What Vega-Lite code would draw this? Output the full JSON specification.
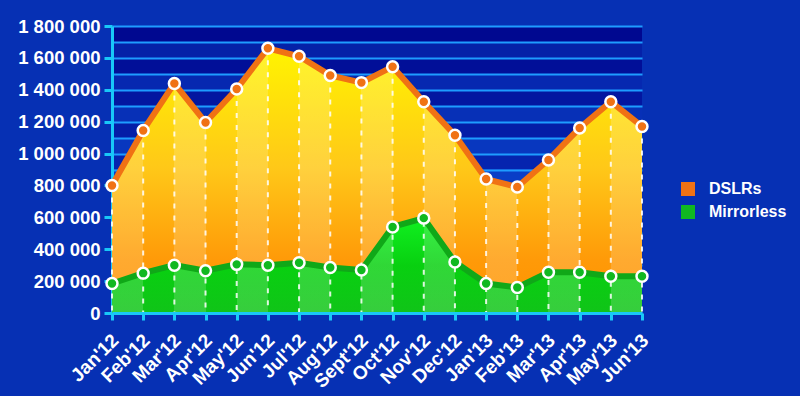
{
  "$schema": "https://vega.github.io/schema/vega-lite/v6.json",
  "width": 530,
  "height": 287,
  "autosize": {"type": "none"},
  "padding": {"left": 112, "top": 26, "right": 158, "bottom": 83},
  "background": "#0630b4",
  "config": {
    "locale": {"number": {"decimal": ".", "thousands": " ", "grouping": [3], "currency": ["", ""]}},
    "font": "Liberation Sans",
    "view": {"stroke": null, "fill": {"gradient": "linear", "x1": 0, "y1": 0, "x2": 0, "y2": 1, "stops": [
      {"offset": 0, "color": "#000890"}, {"offset": 0.0556, "color": "#000890"},
      {"offset": 0.0556, "color": "#0521a8"}, {"offset": 0.1111, "color": "#0521a8"},
      {"offset": 0.1111, "color": "#010f98"}, {"offset": 0.1667, "color": "#010f98"},
      {"offset": 0.1667, "color": "#0628b0"}, {"offset": 0.2222, "color": "#0628b0"},
      {"offset": 0.2222, "color": "#0316a0"}, {"offset": 0.2778, "color": "#0316a0"},
      {"offset": 0.2778, "color": "#0730b7"}, {"offset": 0.3333, "color": "#0730b7"},
      {"offset": 0.3333, "color": "#041da7"}, {"offset": 0.3889, "color": "#041da7"},
      {"offset": 0.3889, "color": "#0837bf"}, {"offset": 0.4444, "color": "#0837bf"},
      {"offset": 0.4444, "color": "#0524af"}, {"offset": 0.5, "color": "#0524af"},
      {"offset": 0.5, "color": "#093ec7"}, {"offset": 0.5556, "color": "#093ec7"},
      {"offset": 0.5556, "color": "#062bb7"}, {"offset": 0.6111, "color": "#062bb7"},
      {"offset": 0.6111, "color": "#0a45cf"}, {"offset": 0.6667, "color": "#0a45cf"},
      {"offset": 0.6667, "color": "#0732bf"}, {"offset": 0.7222, "color": "#0732bf"},
      {"offset": 0.7222, "color": "#0c4cd7"}, {"offset": 0.7778, "color": "#0c4cd7"},
      {"offset": 0.7778, "color": "#083ac6"}, {"offset": 0.8333, "color": "#083ac6"},
      {"offset": 0.8333, "color": "#0d53de"}, {"offset": 0.8889, "color": "#0d53de"},
      {"offset": 0.8889, "color": "#0941ce"}, {"offset": 0.9444, "color": "#0941ce"},
      {"offset": 0.9444, "color": "#0e5ae6"}, {"offset": 1, "color": "#0e5ae6"}]}}
  },
  "data": {
    "values": [
      {"month": "Jan'12", "series": "DSLRs", "value": 800000},
      {"month": "Feb'12", "series": "DSLRs", "value": 1145000},
      {"month": "Mar'12", "series": "DSLRs", "value": 1440000},
      {"month": "Apr'12", "series": "DSLRs", "value": 1195000},
      {"month": "May'12", "series": "DSLRs", "value": 1405000},
      {"month": "Jun'12", "series": "DSLRs", "value": 1660000},
      {"month": "Jul'12", "series": "DSLRs", "value": 1610000},
      {"month": "Aug'12", "series": "DSLRs", "value": 1490000},
      {"month": "Sept'12", "series": "DSLRs", "value": 1445000},
      {"month": "Oct'12", "series": "DSLRs", "value": 1545000},
      {"month": "Nov'12", "series": "DSLRs", "value": 1325000},
      {"month": "Dec'12", "series": "DSLRs", "value": 1115000},
      {"month": "Jan'13", "series": "DSLRs", "value": 840000},
      {"month": "Feb'13", "series": "DSLRs", "value": 790000},
      {"month": "Mar'13", "series": "DSLRs", "value": 960000},
      {"month": "Apr'13", "series": "DSLRs", "value": 1160000},
      {"month": "May'13", "series": "DSLRs", "value": 1325000},
      {"month": "Jun'13", "series": "DSLRs", "value": 1170000},
      {"month": "Jan'12", "series": "Mirrorless", "value": 185000},
      {"month": "Feb'12", "series": "Mirrorless", "value": 250000},
      {"month": "Mar'12", "series": "Mirrorless", "value": 300000},
      {"month": "Apr'12", "series": "Mirrorless", "value": 265000},
      {"month": "May'12", "series": "Mirrorless", "value": 305000},
      {"month": "Jun'12", "series": "Mirrorless", "value": 300000},
      {"month": "Jul'12", "series": "Mirrorless", "value": 315000},
      {"month": "Aug'12", "series": "Mirrorless", "value": 285000},
      {"month": "Sept'12", "series": "Mirrorless", "value": 270000},
      {"month": "Oct'12", "series": "Mirrorless", "value": 540000},
      {"month": "Nov'12", "series": "Mirrorless", "value": 595000},
      {"month": "Dec'12", "series": "Mirrorless", "value": 320000},
      {"month": "Jan'13", "series": "Mirrorless", "value": 185000},
      {"month": "Feb'13", "series": "Mirrorless", "value": 160000},
      {"month": "Mar'13", "series": "Mirrorless", "value": 255000},
      {"month": "Apr'13", "series": "Mirrorless", "value": 255000},
      {"month": "May'13", "series": "Mirrorless", "value": 230000},
      {"month": "Jun'13", "series": "Mirrorless", "value": 230000}
    ]
  },
  "encoding": {
    "x": {
      "field": "month", "type": "ordinal", "sort": null,
      "scale": {"type": "point", "padding": 0},
      "axis": {
        "title": null, "domainColor": "#18c8f8", "domainWidth": 3,
        "tickColor": "#18c8f8", "tickWidth": 3, "tickSize": 7,
        "labelAngle": -45, "labelAlign": "right", "labelBaseline": "middle",
        "labelColor": "white", "labelFont": "Liberation Sans", "labelFontWeight": "bold",
        "labelFontSize": 19, "labelPadding": 17, "labelOffset": 3, "zindex": 1
      }
    },
    "y": {
      "field": "value", "type": "quantitative", "scale": {"domain": [0, 1800000]},
      "axis": {"title": null, "grid": true, "gridColor": "#1e9cff", "gridWidth": 2,
        "domainColor": "#18c8f8", "domainWidth": 3, "tickColor": "#18c8f8", "tickWidth": 3, "tickSize": 8,
        "tickOpacity": {"condition": {"test": "datum.value % 200000 === 0", "value": 1}, "value": 0},
        "labelExpr": "datum.value % 200000 === 0 ? datum.label : ''",
        "labelColor": "white", "labelFont": "Liberation Sans", "labelFontWeight": "bold", "labelFontSize": 18.5, "labelPadding": 4, "format": ",d", "zindex": 0,
        "values": [0, 100000, 200000, 300000, 400000, 500000, 600000, 700000, 800000, 900000, 1000000, 1100000, 1200000, 1300000, 1400000, 1500000, 1600000, 1700000, 1800000]}
    }
  },
  "layer": [
    {
      "transform": [{"filter": "datum.series === 'DSLRs'"}],
      "mark": {"type": "area", "color": {"gradient": "linear", "x1": 0, "y1": 0, "x2": 0, "y2": 1, "stops": [{"offset": 0, "color": "#fff400"}, {"offset": 0.45, "color": "#ffc818"}, {"offset": 0.8, "color": "#ff9a08"}, {"offset": 1, "color": "#ff9200"}]}}
    },
    {
      "transform": [{"filter": "datum.series === 'Mirrorless'"}],
      "mark": {"type": "area", "color": {"gradient": "linear", "x1": 0, "y1": 0, "x2": 0, "y2": 1, "stops": [{"offset": 0, "color": "#10f020"}, {"offset": 0.5, "color": "#08d010"}, {"offset": 1, "color": "#10c418"}]}}
    },
    {
      "transform": [{"filter": "datum.series === 'DSLRs'"}],
      "mark": {"type": "area", "color": {"gradient": "linear", "x1": 0, "y1": 0, "x2": 1, "y2": 0, "stops": [
        {"offset": 0, "color": "rgba(255,255,255,0.16)"}, {"offset": 0.0588, "color": "rgba(255,255,255,0.16)"},
        {"offset": 0.0588, "color": "rgba(255,255,255,0)"}, {"offset": 0.1176, "color": "rgba(255,255,255,0)"},
        {"offset": 0.1176, "color": "rgba(255,255,255,0.16)"}, {"offset": 0.1765, "color": "rgba(255,255,255,0.16)"},
        {"offset": 0.1765, "color": "rgba(255,255,255,0)"}, {"offset": 0.2353, "color": "rgba(255,255,255,0)"},
        {"offset": 0.2353, "color": "rgba(255,255,255,0.16)"}, {"offset": 0.2941, "color": "rgba(255,255,255,0.16)"},
        {"offset": 0.2941, "color": "rgba(255,255,255,0)"}, {"offset": 0.3529, "color": "rgba(255,255,255,0)"},
        {"offset": 0.3529, "color": "rgba(255,255,255,0.16)"}, {"offset": 0.4118, "color": "rgba(255,255,255,0.16)"},
        {"offset": 0.4118, "color": "rgba(255,255,255,0)"}, {"offset": 0.4706, "color": "rgba(255,255,255,0)"},
        {"offset": 0.4706, "color": "rgba(255,255,255,0.16)"}, {"offset": 0.5294, "color": "rgba(255,255,255,0.16)"},
        {"offset": 0.5294, "color": "rgba(255,255,255,0)"}, {"offset": 0.5882, "color": "rgba(255,255,255,0)"},
        {"offset": 0.5882, "color": "rgba(255,255,255,0.16)"}, {"offset": 0.6471, "color": "rgba(255,255,255,0.16)"},
        {"offset": 0.6471, "color": "rgba(255,255,255,0)"}, {"offset": 0.7059, "color": "rgba(255,255,255,0)"},
        {"offset": 0.7059, "color": "rgba(255,255,255,0.16)"}, {"offset": 0.7647, "color": "rgba(255,255,255,0.16)"},
        {"offset": 0.7647, "color": "rgba(255,255,255,0)"}, {"offset": 0.8235, "color": "rgba(255,255,255,0)"},
        {"offset": 0.8235, "color": "rgba(255,255,255,0.16)"}, {"offset": 0.8824, "color": "rgba(255,255,255,0.16)"},
        {"offset": 0.8824, "color": "rgba(255,255,255,0)"}, {"offset": 0.9412, "color": "rgba(255,255,255,0)"},
        {"offset": 0.9412, "color": "rgba(255,255,255,0.16)"}, {"offset": 1, "color": "rgba(255,255,255,0.16)"}]}}
    },
    {
      "transform": [{"filter": "datum.series === 'DSLRs'"}],
      "mark": {"type": "rule", "color": "white", "strokeWidth": 2, "strokeDash": [5, 7], "opacity": 0.85},
      "encoding": {"y2": {"datum": 0}}
    },
    {
      "transform": [{"filter": "datum.series === 'DSLRs'"}],
      "mark": {"type": "line", "strokeWidth": 6, "color": "#f07214"}
    },
    {
      "transform": [{"filter": "datum.series === 'Mirrorless'"}],
      "mark": {"type": "line", "strokeWidth": 6, "color": "#10a818"}
    },
    {
      "mark": {"type": "point", "filled": true, "shape": "circle", "size": 120, "stroke": "white", "strokeWidth": 2.5, "opacity": 1},
      "encoding": {
        "fill": {
          "field": "series", "type": "nominal", "scale": {"domain": ["DSLRs", "Mirrorless"], "range": ["#f07214", "#10b820"]},
          "legend": {"title": null, "orient": "none", "legendX": 568, "legendY": 155, "symbolType": "square", "symbolSize": 196, "symbolStrokeWidth": 0, "symbolOpacity": 1,
            "labelColor": "white", "labelFont": "Liberation Sans", "labelFontWeight": "bold", "labelFontSize": 16, "labelOffset": 13, "rowPadding": 7, "padding": 0}
        }
      }
    }
  ]
}
